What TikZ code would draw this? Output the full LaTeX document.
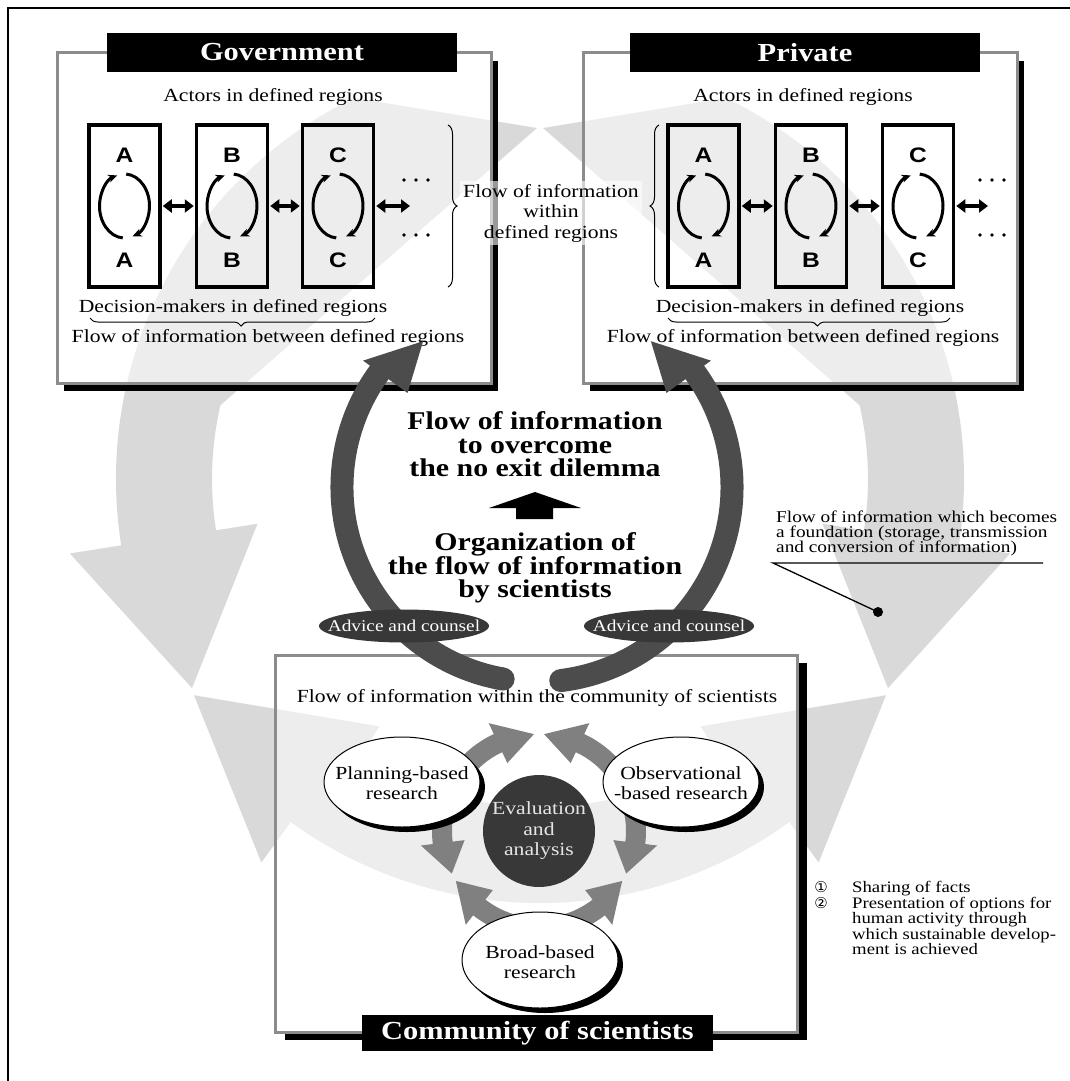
\documentclass[tikz,border=0pt]{standalone}
\usepackage{fontspec}
\setmainfont{Liberation Serif}[FakeStretch=1.17]
\setsansfont{Liberation Sans}[FakeStretch=1.17]
\newfontfamily\circfont{DejaVu Sans}
\usetikzlibrary{arrows.meta,decorations.pathreplacing}

\definecolor{ringgrey}{gray}{0.85}
\definecolor{paneledge}{gray}{0.55}
\definecolor{darkflow}{gray}{0.30}
\definecolor{hubgrey}{gray}{0.50}
\definecolor{ovalfill}{gray}{0.22}

\newcommand\tightlines{\lineskiplimit=-30pt\relax}

% curved block arrow around the evaluation hub: start angle, head base angle, tip angle
\newcommand\hubarrow[3]{%
  \fill[hubgrey] ([shift={(hub)}]#1:107) arc[start angle=#1,end angle=#2,radius=107]
    -- ([shift={(hub)}]#2:119) -- ([shift={(hub)}]#3:97) -- ([shift={(hub)}]#2:75)
    -- ([shift={(hub)}]#2:87) arc[start angle=#2,end angle=#1,radius=87] -- cycle;}

\begin{document}
\begin{tikzpicture}[x=1pt,y=-1pt,
  txt/.style={font={\fontsize{18.5}{20.5}\selectfont\tightlines}, inner sep=0pt, align=center},
  note/.style={font={\fontsize{16}{15.5}\selectfont\tightlines}, inner sep=0pt, align=left},
  heading/.style={font={\bfseries\fontsize{25.5}{23.5}\selectfont\tightlines}, inner sep=0pt, align=center},
  titlebar/.style={fill=black, text=white, font={\bfseries\fontsize{26}{26}\selectfont}, inner sep=0pt, minimum width=350, minimum height=39},
  panel/.style={draw=paneledge, line width=3, fill=white, fill opacity=0.55},
  regionbox/.style={draw, line width=3.5, minimum width=71, minimum height=162, inner sep=0pt},
  letter/.style={font={\sffamily\bfseries\fontsize{21}{21}\selectfont}, inner sep=0pt},
  turn/.style={line width=3, -{Stealth[length=9,width=8]}},
  link/.style={line width=4, {Triangle[length=9,width=13]}-{Triangle[length=9,width=13]}, shorten <=1, shorten >=1},
  brace/.style={decorate, decoration={brace, amplitude=#1}, line width=1},
  brace/.default=8,
  counselarc/.style={draw=darkflow, line width=23},
  ovaltext/.style={font={\fontsize{16.5}{16.5}\selectfont}, text=white, inner sep=0pt},
  circnum/.style={font={\circfont\fontsize{15}{15}\selectfont}, inner sep=0pt},
]
\useasboundingbox (0,0) rectangle (1070,1081);
\fill[white] (0,0) rectangle (1070,1081);
\draw[line width=2] (8,1081) -- (8,8) -- (1070,8);

% ring of three grey flows that form the foundation
\begin{scope}[shift={(540,479)}]
  \fill[ringgrey] (171:424) arc[start angle=171,end angle=244,radius=424]
    -- (269.5:351) -- (193:328)
    arc[start angle=193,end angle=171,radius=328]
    -- (171:286) -- (149:406) -- (171:476) -- cycle;
  \fill[ringgrey] (270.5:351) -- (296:424) arc[start angle=296,end angle=369,radius=424]
    -- (369:476) -- (391:406) -- (369:286) -- (369:328)
    arc[start angle=369,end angle=347,radius=328] -- cycle;
  \fill[ringgrey] (32:408) -- (54:474) -- (54:424) arc[start angle=54,end angle=126,radius=424]
    -- (126:474) -- (148:408) -- (123:295) -- (123:328)
    arc[start angle=123,end angle=57,radius=328] -- (57:295) -- cycle;
\end{scope}

% ---------- Government ----------
\fill (491,61) rectangle (498,391);
\fill (64,383) rectangle (498,391);
\draw[panel] (57,53) rectangle (491,383);
\node[titlebar] (govtitle) at (282,52.5) {Government};
\node[txt] (govactors) at (273,97) {Actors in defined regions};
\node[regionbox] (gA) at (124.5,206) {};
\node[regionbox] (gB) at (232,206) {};
\node[regionbox] (gC) at (338,206) {};
\coordinate (gmore) at (411,206);
\draw[link] (gA) -- (gB);
\draw[link] (gB) -- (gC);
\draw[link] (gC) -- (gmore);
\foreach \x in {404,416,428} { \fill (\x,180) circle[radius=1.8]; \fill (\x,235) circle[radius=1.8]; }
\draw[brace=9] (448,125) -- (448,287);
\node[txt] (govdecide) at (233,308) {Decision-makers in defined regions};
\draw[brace=8, decoration={aspect=0.47}] (375,318) -- (90,318);
\node[txt] (govbetween) at (268,338) {Flow of information between defined regions};

% ---------- Private ----------
\fill (1017,61) rectangle (1024,391);
\fill (590,383) rectangle (1024,391);
\draw[panel] (583,53) rectangle (1017,383);
\node[titlebar] (privtitle) at (805,52.5) {Private};
\node[txt] (privactors) at (803,97) {Actors in defined regions};
\node[regionbox] (pA) at (703.5,206) {};
\node[regionbox] (pB) at (811,206) {};
\node[regionbox] (pC) at (918,206) {};
\coordinate (pmore) at (989,206);
\draw[link] (pA) -- (pB);
\draw[link] (pB) -- (pC);
\draw[link] (pC) -- (pmore);
\foreach \x in {980,992,1004} { \fill (\x,180) circle[radius=1.8]; \fill (\x,235) circle[radius=1.8]; }
\draw[brace=9] (659,287) -- (659,125);
\node[txt] (privdecide) at (810,308) {Decision-makers in defined regions};
\draw[brace=8, decoration={aspect=0.47}] (950,318) -- (668,318);
\node[txt] (privbetween) at (803,338) {Flow of information between defined regions};

% letters and circulation inside every region
\foreach \b/\l in {gA/A,gB/B,gC/C,pA/A,pB/B,pC/C} {
  \node[letter] (\b top) at ([shift={(0,-51)}]\b.center) {\l};
  \node[letter] (\b bot) at ([shift={(0,54)}]\b.center) {\l};
  \draw[turn] ([shift={(\b.center)}]94:25 and 32) arc[start angle=94,end angle=253,x radius=25,y radius=32];
  \draw[turn] ([shift={(\b.center)}]274:25 and 32) arc[start angle=274,end angle=431,x radius=25,y radius=32];
}

\node[txt, fill=white, fill opacity=0.6, text opacity=1, inner sep=3] (withinregions) at (551,213) {Flow of information\\within\\defined regions};

% ---------- Community of scientists ----------
\fill (798.5,663) rectangle (807,1040);
\fill (285,1033.5) rectangle (807,1040);
\draw[panel] (275,655) rectangle (797,1032);
\node[titlebar, minimum width=351, minimum height=36] (commtitle) at (537.5,1033) {Community of scientists};
\node[txt] (commflow) at (537,698) {Flow of information within the community of scientists};

\coordinate (hub) at (539,831);
\hubarrow{215}{245}{267}
\hubarrow{325}{295}{273}
\hubarrow{195}{173}{154}
\hubarrow{105}{128}{149}
\hubarrow{345}{367}{386}
\hubarrow{75}{52}{31}

\fill (407,787) ellipse[x radius=78,y radius=45];
\filldraw[fill=white,line width=1] (402,782) ellipse[x radius=78,y radius=45];
\node[txt] (planning) at (402,783) {Planning-based\\research};
\fill (686,787) ellipse[x radius=78,y radius=45];
\filldraw[fill=white,line width=1] (681,782) ellipse[x radius=78,y radius=45];
\node[txt] (observational) at (681,783) {Observational\\-based research};
\fill (545,965) ellipse[x radius=78,y radius=48];
\filldraw[fill=white,line width=1] (540,960) ellipse[x radius=78,y radius=48];
\node[txt] (broad) at (540,962) {Broad-based\\research};
\node[circle, fill=ovalfill, minimum size=112, txt, text=black!10] (evaluation) at (hub) {Evaluation\\and\\analysis};

% ---------- advice and counsel flows ----------
\coordinate (flowhub) at (537,487);
\draw[counselarc] ([shift={(flowhub)}]100:195) arc[start angle=100,end angle=218,radius=195];
\fill[darkflow] ([shift={(flowhub)}]100:195) circle[radius=11.5];
\fill[darkflow] ([shift={(flowhub)}]216:215) -- ([shift={(flowhub)}]232:185) -- ([shift={(flowhub)}]216:160) -- cycle;
\draw[counselarc] ([shift={(flowhub)}]83:195) arc[start angle=83,end angle=-38,radius=195];
\fill[darkflow] ([shift={(flowhub)}]83:195) circle[radius=11.5];
\fill[darkflow] ([shift={(flowhub)}]-36:215) -- ([shift={(flowhub)}]-52:185) -- ([shift={(flowhub)}]-36:160) -- cycle;

\fill[ovalfill] (404,626) ellipse[x radius=85,y radius=16.5];
\node[ovaltext] (advice1) at (404,626) {Advice and counsel};
\fill[ovalfill] (669,626) ellipse[x radius=85,y radius=16.5];
\node[ovaltext] (advice2) at (669,626) {Advice and counsel};

\node[heading] (overcome) at (535,444.5) {Flow of information\\to overcome\\the no exit dilemma};
\fill (535,492) -- (581,508) -- (553,508) -- (553,519) -- (516,519) -- (516,508) -- (489,508) -- cycle;
\node[heading] (organize) at (535,568) {Organization of\\the flow of information\\by scientists};

% ---------- notes on the right ----------
\node[note, font={\fontsize{16.5}{15}\selectfont\tightlines}, anchor=west] (foundation) at (776,533) {Flow of information which becomes\\a foundation (storage, transmission\\and conversion of information)};
\coordinate (leaderstart) at (773,563);
\coordinate (leaderend) at (1043,563);
\node[circle, fill, inner sep=0pt, minimum size=10] (foundationdot) at (878,612) {};
\draw[line width=1.3] (leaderend) -- (leaderstart) -- (foundationdot.center);

\node[circnum] (num1) at (821,887) {①};
\node[circnum] (num2) at (821,903) {②};
\node[note, anchor=west] (facts) at (852,918) {Sharing of facts\\Presentation of options for\\human activity through\\which sustainable develop-\\ment is achieved};
\end{tikzpicture}
\end{document}
